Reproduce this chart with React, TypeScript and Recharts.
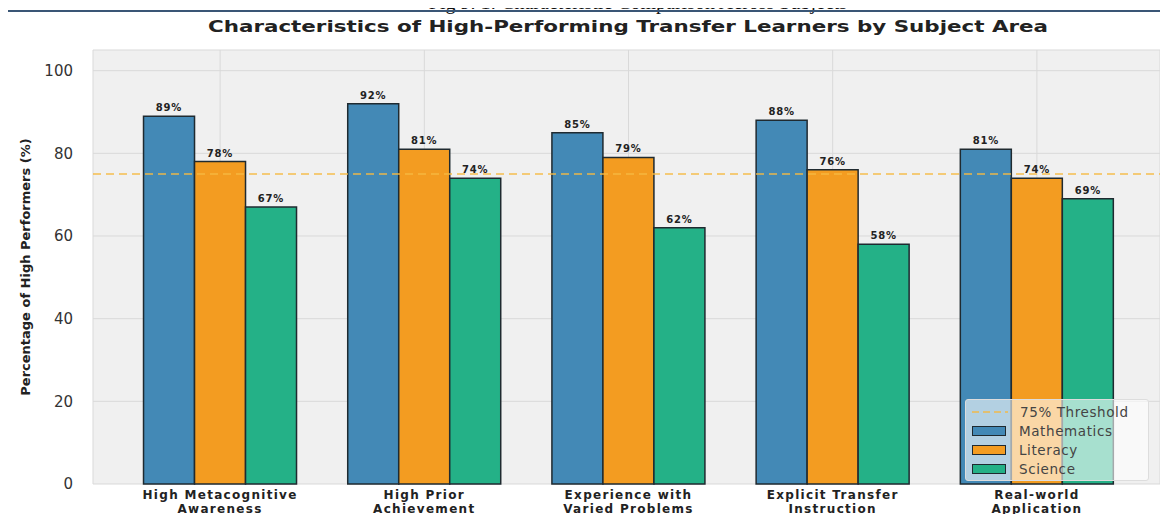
import { Bar, CartesianGrid, ComposedChart, LabelList, ReferenceLine, XAxis, YAxis } from 'recharts'

const categories = [
  'High Metacognitive\nAwareness',
  'High Prior\nAchievement',
  'Experience with\nVaried Problems',
  'Explicit Transfer\nInstruction',
  'Real-world\nApplication',
]
const mathematics = [89, 92, 85, 88, 81]
const literacy = [78, 81, 79, 76, 74]
const science = [67, 74, 62, 58, 69]
const yTicks = [0, 20, 40, 60, 80, 100]
const threshold = 75

const data = categories.map((name, i) => ({
  name,
  Mathematics: mathematics[i],
  Literacy: literacy[i],
  Science: science[i],
}))

const FONT = 'DejaVu Sans, sans-serif'

const CategoryTick = (props: any) => {
  const { x, y, payload } = props
  const lines = String(payload.value).split('\n')
  return (
    <text x={x} y={y} textAnchor="middle" fontFamily={FONT} fontWeight="bold" fontSize={12} fill="#222" letterSpacing={1.3}>
      {lines.map((line, i) => (
        <tspan key={i} x={x} dy={i === 0 ? 7 : 14}>
          {line}
        </tspan>
      ))}
    </text>
  )
}

const legendItems = [
  { label: '75% Threshold', color: '#f5b942', line: true },
  { label: 'Mathematics', color: '#4389b6' },
  { label: 'Literacy', color: '#f39c21' },
  { label: 'Science', color: '#24b187' },
]

const valueLabel = { fontFamily: FONT, fontWeight: 'bold', fontSize: 10, fill: '#222', letterSpacing: 0.8 }

export default function App() {
  return (
    <div style={{ position: 'relative', width: 1168, height: 522, margin: -8, overflow: 'hidden', background: '#fff' }}>
      <div style={{ position: 'absolute', left: 0, top: 0 }}>
        <ComposedChart
          width={1168}
          height={522}
          data={data}
          margin={{ top: 50, right: 8, left: 33, bottom: 0 }}
          barCategoryGap="12.5%"
          barGap={0}
        >
          <CartesianGrid fill="#f0f0f0" stroke="#d9d9d9" strokeWidth={1} />
          <XAxis
            dataKey="name"
            height={38}
            axisLine={false}
            tickLine={false}
            interval={0}
            padding={{ left: 25, right: 21 }}
            tick={<CategoryTick />}
          />
          <YAxis
            width={60}
            domain={[0, 105]}
            ticks={yTicks}
            axisLine={false}
            tickLine={false}
            tick={{ fontFamily: FONT, fontSize: 15, fill: '#333' }}
            tickMargin={14}
            label={{
              value: 'Percentage of High Performers (%)',
              angle: -90,
              position: 'insideLeft',
              offset: -8,
              style: { fontFamily: FONT, fontWeight: 'bold', fontSize: 13, fill: '#222', textAnchor: 'middle' },
            }}
          />
          <Bar dataKey="Mathematics" fill="#4389b6" stroke="#1f2a30" strokeWidth={1.5} isAnimationActive={false}>
            <LabelList dataKey="Mathematics" position="top" offset={5} formatter={(v: any) => `${v}%`} style={valueLabel} />
          </Bar>
          <Bar dataKey="Literacy" fill="#f39c21" stroke="#1f2a30" strokeWidth={1.5} isAnimationActive={false}>
            <LabelList dataKey="Literacy" position="top" offset={5} formatter={(v: any) => `${v}%`} style={valueLabel} />
          </Bar>
          <Bar dataKey="Science" fill="#24b187" stroke="#1f2a30" strokeWidth={1.5} isAnimationActive={false}>
            <LabelList dataKey="Science" position="top" offset={5} formatter={(v: any) => `${v}%`} style={valueLabel} />
          </Bar>
          <ReferenceLine y={threshold} stroke="#f5b942" strokeWidth={2} strokeDasharray="8 5" strokeOpacity={0.7} />
        </ComposedChart>
      </div>
      <svg width={1168} height={45} style={{ position: 'absolute', left: 0, top: 0 }}>
        <text x={628} y={32} textAnchor="middle" fontFamily={FONT} fontWeight="bold" fontSize={15} fill="#222" textLength={840} lengthAdjust="spacingAndGlyphs">
          Characteristics of High-Performing Transfer Learners by Subject Area
        </text>
      </svg>
      <div
        style={{
          position: 'absolute',
          left: 965,
          top: 399,
          width: 184,
          boxSizing: 'border-box',
          background: 'rgba(255,255,255,0.6)',
          border: '1px solid #dddddd',
          borderRadius: 3,
          padding: '2px 6px',
          fontFamily: FONT,
          fontSize: 13.5,
          color: '#444',
          letterSpacing: 0.6,
        }}
      >
        {legendItems.map((it) => (
          <div key={it.label} style={{ display: 'flex', alignItems: 'center', height: 19 }}>
            {it.line ? (
              <svg width={36} height={10} style={{ marginRight: 12 }}>
                <line x1={0} y1={5} x2={36} y2={5} stroke={it.color} strokeWidth={2} strokeDasharray="7 4" opacity={0.7} />
              </svg>
            ) : (
              <div style={{ width: 32, height: 8, background: it.color, border: '1.5px solid #1f2a30', marginRight: 13 }} />
            )}
            <span>{it.label}</span>
          </div>
        ))}
      </div>
      <div
        style={{
          position: 'absolute',
          top: -9,
          left: 0,
          width: 1276,
          textAlign: 'center',
          fontFamily: 'Liberation Serif, serif',
          fontSize: 20,
          color: '#111',
        }}
      >
        Fig 9. 1: Characteristic Comparison Across Subjects
      </div>
      <div
        style={{
          position: 'absolute',
          left: 6,
          top: 10,
          width: 1152,
          height: 530,
          border: '2px solid #3a5676',
          pointerEvents: 'none',
        }}
      />
    </div>
  )
}
